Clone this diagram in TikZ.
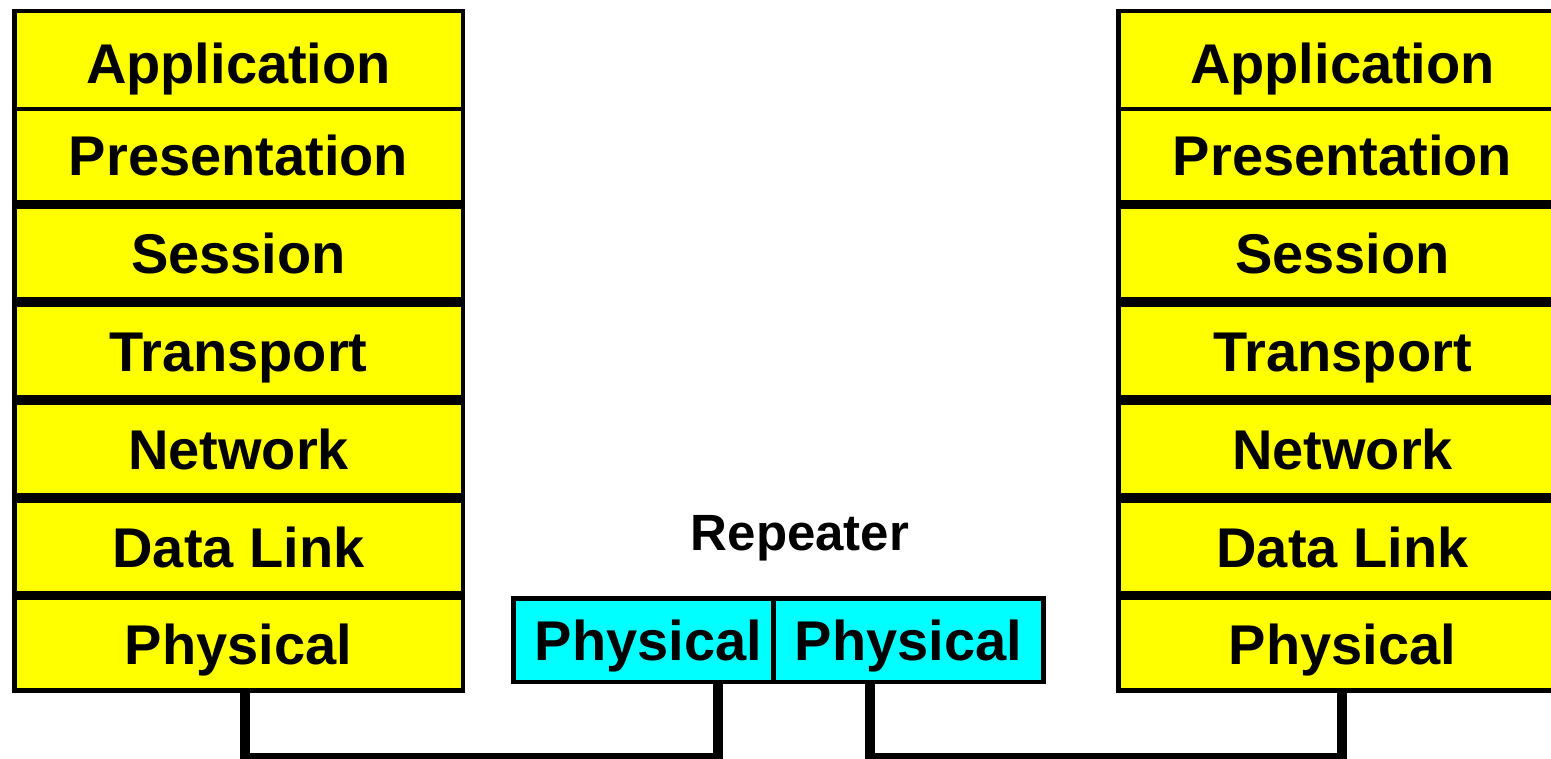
\documentclass[tikz,border=0pt]{standalone}
\usepackage{fontspec}
\setmainfont{Liberation Sans}
\definecolor{layeryellow}{RGB}{255,255,0}
\definecolor{repcyan}{RGB}{0,255,255}
\begin{document}
\begin{tikzpicture}[x=0.5pt,y=-0.5pt,
  layer/.style={draw=black,line width=2.25pt,fill=layeryellow,inner sep=0pt,
    minimum width=224.25pt,text height=20pt,text depth=0pt,
    font=\fontsize{28}{34}\selectfont\bfseries},
  toplayer/.style={layer,text height=24pt},
  repbox/.style={draw=black,line width=2.25pt,fill=repcyan,inner sep=0pt,
    minimum height=41.75pt,text height=20pt,text depth=0pt,
    font=\fontsize{28}{34}\selectfont\bfseries},
  lbl/.style={inner sep=0pt,text height=18pt,text depth=0pt,
    font=\fontsize{25.5}{30}\selectfont\bfseries},
  wire/.style={draw=black,line width=5pt}]
\clip (0,0) rectangle (1551,759);
% left stack
\node[toplayer,minimum height=49pt] (lapp) at (238.5,60)    {Application};
\node[layer,minimum height=46.65pt] (lpre) at (238.5,155.6) {Presentation};
\node[layer,minimum height=46.3pt]  (lses) at (238.5,253)   {Session};
\node[layer,minimum height=46.3pt]  (ltra) at (238.5,351)   {Transport};
\node[layer,minimum height=46.3pt]  (lnet) at (238.5,449)   {Network};
\node[layer,minimum height=46.3pt]  (ldat) at (238.5,547)   {Data Link};
\node[layer,minimum height=46.4pt]  (lphy) at (238.5,644.1) {Physical};
% right stack
\node[toplayer,minimum height=49pt] (rapp) at (1342.5,60)    {Application};
\node[layer,minimum height=46.65pt] (rpre) at (1342.5,155.6) {Presentation};
\node[layer,minimum height=46.3pt]  (rses) at (1342.5,253)   {Session};
\node[layer,minimum height=46.3pt]  (rtra) at (1342.5,351)   {Transport};
\node[layer,minimum height=46.3pt]  (rnet) at (1342.5,449)   {Network};
\node[layer,minimum height=46.3pt]  (rdat) at (1342.5,547)   {Data Link};
\node[layer,minimum height=46.4pt]  (rphy) at (1342.5,644.1) {Physical};
% repeater
\node[repbox,minimum width=130.1pt] (rep1) at (643.4,640) {\hspace*{5pt}Physical};
\node[repbox,minimum width=135.1pt] (rep2) at (908.6,640) {Physical};
\node[lbl] (replbl) at (800,532) {Repeater};
% wires
\coordinate (wl) at (245,758);
\coordinate (wm) at (718,758);
\coordinate (wn) at (870,758);
\coordinate (wr) at (1342,758);
\draw[wire] (lphy.south -| wl) -- (wl) -- (wm) -- (rep1.south -| wm);
\draw[wire] (rep2.south -| wn) -- (wn) -- (wr) -- (rphy.south -| wr);
\end{tikzpicture}
\end{document}
